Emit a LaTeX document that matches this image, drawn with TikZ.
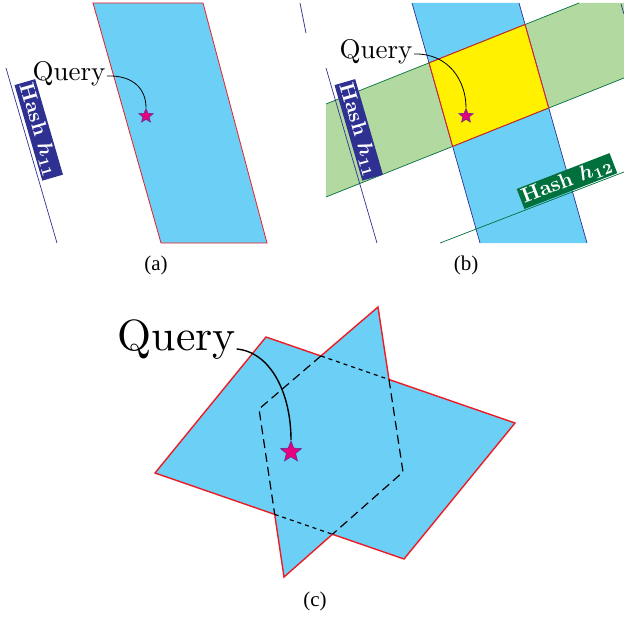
\documentclass[tikz,border=0pt]{standalone}
\usepackage{fontspec}
\usepackage{bm}
\newfontfamily\capfont{Liberation Serif}
\usetikzlibrary{shapes.geometric,calc}
\definecolor{skyb}{HTML}{6CCFF6}
\definecolor{bandg}{HTML}{B2D9A0}
\definecolor{yell}{HTML}{FFF100}
\definecolor{redl}{HTML}{ED1C24}
\definecolor{navy}{HTML}{2E3192}
\definecolor{dgreen}{HTML}{00703C}
\definecolor{starm}{HTML}{E6007E}
\definecolor{starb}{HTML}{662D91}
\tikzset{
  qtext/.style={font=\fontsize{10}{12}\selectfont, inner sep=0pt, anchor=base west, scale=2.7},
  qtextbig/.style={font=\fontsize{10}{12}\selectfont, inner sep=0pt, anchor=base west, scale=4.37},
  qstar/.style={star, star points=5, star point ratio=2.3, fill=starm, draw=starb, line width=0.6pt, minimum size=15pt, inner sep=0pt},
  qstarbig/.style={qstar, minimum size=22pt},
  hashbox/.style={text=white, font=\fontsize{10}{12}\selectfont\bfseries, inner sep=0.9pt, anchor=south, scale=2.1},
  capt/.style={font=\capfont\fontsize{21}{24}\selectfont, inner sep=0pt},
  navyline/.style={draw=navy, line width=0.7pt},
  greenline/.style={draw=dgreen, line width=0.7pt},
  redborder/.style={draw=redl, line width=0.8pt},
  pointer/.style={draw=black, line width=0.8pt},
  longdash/.style={draw=black, line width=1.2pt, dash pattern=on 9pt off 5pt},
  shortdash/.style={draw=black, line width=1.2pt, dash pattern=on 4pt off 4pt},
}
\begin{document}
\begin{tikzpicture}[x=1pt,y=-1pt]
\useasboundingbox (0,0) rectangle (624,618);

% ---------------- panel (a)
\fill[skyb] (93,3) -- (203,3) -- (267,243) -- (161,243) -- cycle;
\draw[redborder] (93,3) -- (203,3) -- (267,243) -- (161,243) -- cycle;
\draw[navyline] (6,68) -- (57,243);
\node[hashbox, fill=navy, rotate=-73.8] (ha) at (28,133) {Hash $\bm{h_{11}}$};
\node[qtext] (qa) at (32,81) {Query};
\node[qstar] (sa) at (146,116) {};
\draw[pointer] ([shift={(1,-5)}]qa.base east) .. controls (132,75) and (146,88) .. (sa.north);
\node[capt] (ca) at (156,265) {(a)};

% ---------------- panel (b)
\fill[bandg] (326,104) -- (579,3) -- (624,3) -- (624,78) -- (326,197) -- cycle;
\fill[skyb] (412,3) -- (519,3) -- (587,243) -- (480,243) -- cycle;
\fill[yell] (429,62.8) -- (525,24.4) -- (548.7,107.9) -- (452.6,146.4) -- cycle;
\draw[navyline] (412,3) -- (480,243);
\draw[navyline] (519,3) -- (587,243);
\draw[greenline] (326,104) -- (579,3);
\draw[greenline] (326,197) -- (624,78);
\draw[redborder] (429,62.8) -- (525,24.4) -- (548.7,107.9) -- (452.6,146.4) -- cycle;
\draw[navyline] (300,3) -- (306,33);
\draw[navyline] (621,4) -- (624,14);
\draw[navyline] (326,68) -- (377,243);
\node[hashbox, fill=navy, rotate=-73.8] (hb) at (348,133) {Hash $\bm{h_{11}}$};
\draw[greenline] (440,243) -- (624,172);
\node[hashbox, fill=dgreen, rotate=21.1] (hc) at (571,191.5) {Hash $\bm{h_{12}}$};
\node[qtext] (qb) at (339,59) {Query};
\node[qstar] (sb) at (466,116) {};
\draw[pointer] ([shift={(1,-5)}]qb.base east) .. controls (448,53) and (466,80) .. (sb.north);
\node[capt] (cb) at (466,265) {(b)};

% ---------------- panel (c)
\coordinate (A1) at (266,337);
\coordinate (B1) at (515,423);
\coordinate (C1) at (404,559);
\coordinate (D1) at (155,473);
\coordinate (A2) at (378,307);
\coordinate (B2) at (403,472);
\coordinate (C2) at (284,577);
\coordinate (D2) at (259,409);
\coordinate (P1) at (intersection of A1--B1 and D2--A2);
\coordinate (P2) at (intersection of A1--B1 and A2--B2);
\coordinate (P3) at (intersection of C1--D1 and B2--C2);
\coordinate (P4) at (intersection of C1--D1 and C2--D2);
\fill[skyb] (A1) -- (B1) -- (C1) -- (D1) -- cycle;
\fill[skyb] (A2) -- (B2) -- (C2) -- (D2) -- cycle;
\draw[draw=redl, line width=1.4pt, line join=miter]
  (D1) -- (A1) -- (P1) -- (A2) -- (P2) -- (B1) -- (C1) -- (P3) -- (C2) -- (P4) -- cycle;
\draw[longdash] (P1) -- (D2) -- (P4);
\draw[longdash] (P2) -- (B2) -- (P3);
\draw[shortdash] (P1) -- (P2);
\draw[shortdash] (P4) -- (P3);
\node[qtextbig] (qc) at (117,350) {Query};
\node[qstarbig] (sc) at (291,452) {};
\draw[draw=black, line width=1.4pt] ([shift={(0,-1)}]qc.base east) .. controls (270,352) and (291,392) .. (sc.north);
\node[capt] (cc) at (315,601) {(c)};
\end{tikzpicture}
\end{document}
